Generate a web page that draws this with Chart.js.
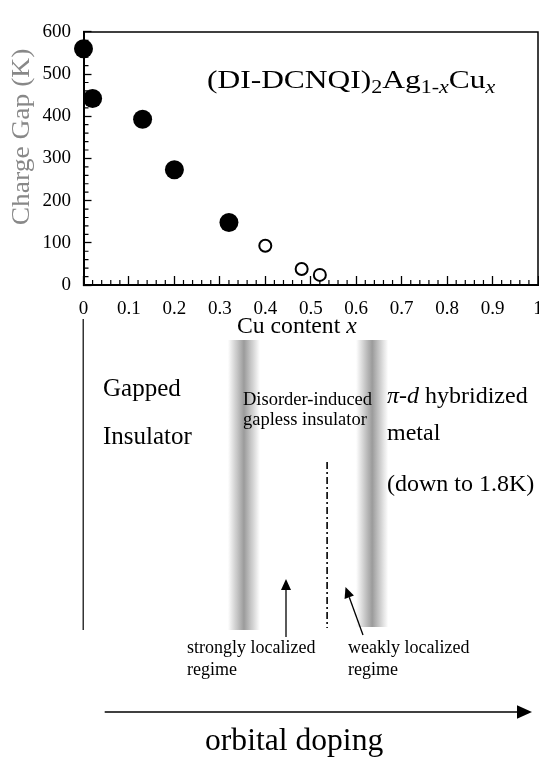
<!DOCTYPE html>
<html>
<head>
<meta charset="utf-8">
<script src="https://cdn.jsdelivr.net/npm/chart.js@4.4.0/dist/chart.umd.min.js"></script>
<style>
  html, body { margin: 0; padding: 0; background: #fff; }
</style>
</head>
<body>
<canvas id="chart" width="539" height="758"></canvas>
<script>
// measured data: Cu content x vs charge gap (K)
var gappedX = [0, 0.02, 0.13, 0.2, 0.32];
var gappedGap = [560, 442, 393, 273, 148];
var gaplessX = [0.4, 0.48, 0.52];
var gaplessGap = [93, 38, 24];

var xTickValues = [0, 0.1, 0.2, 0.3, 0.4, 0.5, 0.6, 0.7, 0.8, 0.9, 1];
var yTickValues = [0, 100, 200, 300, 400, 500, 600];

// phase boundaries in the sketch below the plot (in x units)
var regimeEdges = [0.353, 0.635];
var localizationEdge = 0.536;

var SERIF = "'Liberation Serif', 'Times New Roman', serif";

function toPoints(xs, ys) {
    return xs.map(function (x, i) { return { x: x, y: ys[i] }; });
}

// text runs with italics / subscripts, optionally stretched horizontally
function drawRuns(ctx, runs, x, y, size, stretch) {
    ctx.save();
    ctx.translate(x, y);
    ctx.scale(stretch || 1, 1);
    ctx.textAlign = 'left';
    ctx.textBaseline = 'alphabetic';
    var cx = 0;
    runs.forEach(function (r) {
        var s = r.sub ? size * 0.7 : size;
        ctx.font = (r.it ? 'italic ' : '') + s + 'px ' + SERIF;
        ctx.fillText(r.t, cx, r.sub ? size * 0.2 : 0);
        cx += ctx.measureText(r.t).width;
    });
    ctx.restore();
}

function arrow(ctx, x1, y1, x2, y2, len, half, width) {
    var ang = Math.atan2(y2 - y1, x2 - x1);
    var bx = x2 - Math.cos(ang) * len, by = y2 - Math.sin(ang) * len;
    ctx.lineWidth = width;
    ctx.beginPath();
    ctx.moveTo(x1, y1);
    ctx.lineTo(bx, by);
    ctx.stroke();
    ctx.beginPath();
    ctx.moveTo(x2, y2);
    ctx.lineTo(bx + Math.sin(ang) * half, by - Math.cos(ang) * half);
    ctx.lineTo(bx - Math.sin(ang) * half, by + Math.cos(ang) * half);
    ctx.closePath();
    ctx.fill();
}

function band(ctx, xc, top, bottom) {
    var g = ctx.createLinearGradient(xc - 16, 0, xc + 16, 0);
    g.addColorStop(0, 'rgba(155,155,155,0)');
    g.addColorStop(0.5, 'rgba(155,155,155,1)');
    g.addColorStop(1, 'rgba(155,155,155,0)');
    ctx.fillStyle = g;
    ctx.fillRect(xc - 16, top, 32, bottom - top);
}

var framePlugin = {
    id: 'frame',
    beforeDatasetsDraw: function (chart) {
        var ctx = chart.ctx, a = chart.chartArea;
        var xs = chart.scales.x, ys = chart.scales.y;
        ctx.save();
        ctx.strokeStyle = '#000';
        ctx.lineWidth = 1.5;
        ctx.beginPath();
        ctx.moveTo(a.left, a.top);
        ctx.lineTo(a.right, a.top);
        ctx.lineTo(a.right, a.bottom);
        ctx.stroke();
        // minor ticks, pointing inward
        ctx.lineWidth = 1.2;
        ctx.beginPath();
        for (var v = 20; v < 600; v += 20) {
            if (v % 100 === 0) continue;
            var py = ys.getPixelForValue(v);
            ctx.moveTo(a.left, py);
            ctx.lineTo(a.left + 5, py);
        }
        for (var i = 1; i < 50; i++) {
            if (i % 5 === 0) continue;
            var px = xs.getPixelForValue(i * 0.02);
            ctx.moveTo(px, a.bottom);
            ctx.lineTo(px, a.bottom - 5);
        }
        ctx.stroke();
        ctx.restore();
    },
    afterDraw: function (chart) {
        var ctx = chart.ctx, xs = chart.scales.x;
        ctx.save();
        ctx.fillStyle = '#000';
        ctx.strokeStyle = '#000';

        // axis titles
        ctx.save();
        ctx.translate(22, 137);
        ctx.rotate(-Math.PI / 2);
        ctx.scale(1.1, 1);
        ctx.filter = 'blur(0.7px)';
        ctx.fillStyle = '#888';
        ctx.font = '25px ' + SERIF;
        ctx.textAlign = 'center';
        ctx.textBaseline = 'middle';
        ctx.fillText('Charge Gap (K)', 0, 0);
        ctx.restore();

        drawRuns(ctx, [{ t: 'Cu content ' }, { t: 'x', it: true }], 237, 333, 23, 1.03);

        // compound label
        drawRuns(ctx, [
            { t: '(DI-DCNQI)' }, { t: '2', sub: true }, { t: 'Ag' },
            { t: '1-', sub: true }, { t: 'x', sub: true, it: true },
            { t: 'Cu' }, { t: 'x', sub: true, it: true }
        ], 207, 88, 26, 1.21);

        // phase sketch below the plot
        var x0 = xs.getPixelForValue(0);
        band(ctx, xs.getPixelForValue(regimeEdges[0]), 340, 630);
        band(ctx, xs.getPixelForValue(regimeEdges[1]), 340, 627);

        ctx.fillStyle = '#000';
        ctx.lineWidth = 1.2;
        ctx.beginPath();
        ctx.moveTo(x0 - 0.3, 319);
        ctx.lineTo(x0 - 0.3, 630);
        ctx.stroke();

        var xd = xs.getPixelForValue(localizationEdge);
        ctx.save();
        ctx.lineWidth = 1.6;
        ctx.setLineDash([7, 3, 2, 3]);
        ctx.beginPath();
        ctx.moveTo(xd, 462);
        ctx.lineTo(xd, 628);
        ctx.stroke();
        ctx.restore();

        drawRuns(ctx, [{ t: 'Gapped' }], 103, 396, 25, 1);
        drawRuns(ctx, [{ t: 'Insulator' }], 103, 444, 25, 1);
        drawRuns(ctx, [{ t: 'Disorder-induced' }], 243, 405, 18.5, 1);
        drawRuns(ctx, [{ t: 'gapless insulator' }], 243, 425, 18.5, 1);
        drawRuns(ctx, [{ t: 'π', it: true }, { t: '-' }, { t: 'd', it: true }, { t: ' hybridized' }], 387, 403, 24, 1);
        drawRuns(ctx, [{ t: 'metal' }], 387, 440, 24, 1);
        drawRuns(ctx, [{ t: '(down to 1.8K)' }], 387, 491, 24, 1);

        arrow(ctx, 286, 637, 286, 579, 11, 5, 1.3);
        arrow(ctx, 363, 635, 345.5, 587, 11, 5, 1.3);
        drawRuns(ctx, [{ t: 'strongly localized' }], 187, 653, 18, 1);
        drawRuns(ctx, [{ t: 'regime' }], 187, 675, 18, 1);
        drawRuns(ctx, [{ t: 'weakly localized' }], 348, 653, 18, 1);
        drawRuns(ctx, [{ t: 'regime' }], 348, 675, 18, 1);

        arrow(ctx, 104.7, 712, 532, 712, 15, 6.7, 1.5);
        drawRuns(ctx, [{ t: 'orbital doping' }], 205, 750, 31, 1.02);
        ctx.restore();
    }
};

new Chart(document.getElementById('chart'), {
    type: 'scatter',
    data: {
        datasets: [{
            label: 'gapped',
            data: toPoints(gappedX, gappedGap),
            pointRadius: 9.5,
            pointBackgroundColor: '#000',
            pointBorderColor: '#000',
            pointBorderWidth: 0,
            showLine: false,
            clip: false
        }, {
            label: 'gapless',
            data: toPoints(gaplessX, gaplessGap),
            pointRadius: 6,
            pointBackgroundColor: '#fff',
            pointBorderColor: '#000',
            pointBorderWidth: 2,
            showLine: false,
            clip: false
        }]
    },
    options: {
        responsive: false,
        animation: false,
        events: [],
        layout: { autoPadding: false, padding: { left: 0, top: 20, right: 1, bottom: 423 } },
        plugins: { legend: { display: false }, tooltip: { enabled: false } },
        scales: {
            x: {
                type: 'linear',
                min: 0,
                max: 1,
                afterBuildTicks: function (s) {
                    s.ticks = xTickValues.map(function (v) { return { value: v }; });
                },
                afterFit: function (s) {
                    s.height = 50;
                    s.paddingLeft = 0;
                    s.paddingRight = 0;
                },
                grid: { drawOnChartArea: false, drawTicks: true, tickLength: -9, tickWidth: 1.3, tickColor: '#000' },
                border: { color: '#000', width: 2 },
                ticks: {
                    padding: 22,
                    color: '#000',
                    maxRotation: 0,
                    autoSkip: false,
                    font: { family: SERIF, size: 19 },
                    callback: function (v) { return String(+(+v).toFixed(1)); }
                }
            },
            y: {
                type: 'linear',
                min: 0,
                max: 600,
                afterBuildTicks: function (s) {
                    s.ticks = yTickValues.map(function (v) { return { value: v }; });
                },
                afterFit: function (s) {
                    s.width = 83.5;
                },
                grid: { drawOnChartArea: false, drawTicks: true, tickLength: -8, tickWidth: 1.3, tickColor: '#000' },
                border: { color: '#000', width: 2 },
                ticks: {
                    padding: 20.5,
                    color: '#000',
                    font: { family: SERIF, size: 19 }
                }
            }
        }
    },
    plugins: [framePlugin]
});
</script>
</body>
</html>
